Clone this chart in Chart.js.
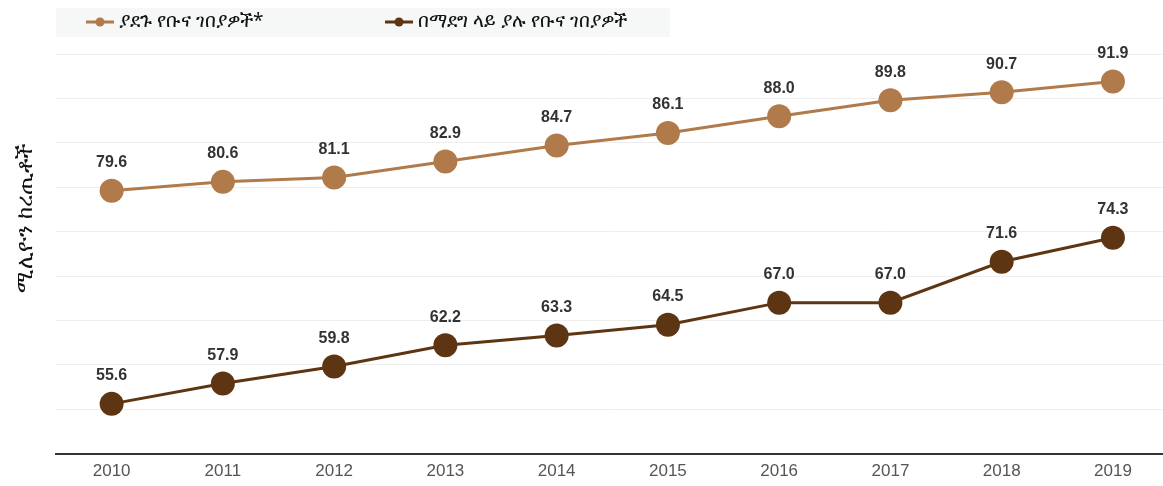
<!DOCTYPE html>
<html>
<head>
<meta charset="utf-8">
<script src="https://cdn.jsdelivr.net/npm/chart.js@4/dist/chart.umd.min.js"></script>
<style>
  html, body { margin: 0; padding: 0; background: #fff; overflow: hidden; }
  canvas { display: block; }
</style>
</head>
<body>
<canvas id="chart" width="1163" height="486"></canvas>
<script>
const years = [2010, 2011, 2012, 2013, 2014, 2015, 2016, 2017, 2018, 2019];
const developed = [79.6, 80.6, 81.1, 82.9, 84.7, 86.1, 88.0, 89.8, 90.7, 91.9];
const developing = [55.6, 57.9, 59.8, 62.2, 63.3, 64.5, 67.0, 67.0, 71.6, 74.3];
const seriesNames = ["ያደጉ የቡና ገበያዎች*", "በማደግ ላይ ያሉ የቡና ገበያዎች"];
const yTitle = "ሚሊዮን ከረጢቶች";

const light = "#b07a4a";
const dark = "#5e3512";
const textFont = "'Noto Sans', 'DejaVu Sans', sans-serif";

// legend, value labels and the axis title are painted here
const decor = {
  id: "decor",
  afterDatasetsDraw(chart) {
    const ctx = chart.ctx;
    ctx.save();
    ctx.font = "bold 16px 'Liberation Sans', Arial, sans-serif";
    ctx.fillStyle = "#333";
    ctx.textAlign = "center";
    ctx.textBaseline = "middle";
    chart.data.datasets.forEach((ds, i) => {
      chart.getDatasetMeta(i).data.forEach((pt, j) => {
        ctx.fillText(ds.data[j].y.toFixed(1), pt.x, pt.y - 28);
      });
    });
    ctx.restore();
  },
  afterDraw(chart) {
    const ctx = chart.ctx;
    ctx.save();
    // legend
    ctx.fillStyle = "#f6f8f8";
    ctx.fillRect(56, 8, 614, 29);
    const items = [{x: 86, ds: 0}, {x: 385, ds: 1}];
    items.forEach(it => {
      const c = chart.data.datasets[it.ds].borderColor;
      ctx.strokeStyle = c;
      ctx.lineWidth = 3;
      ctx.beginPath();
      ctx.moveTo(it.x, 22);
      ctx.lineTo(it.x + 28, 22);
      ctx.stroke();
      ctx.fillStyle = c;
      ctx.beginPath();
      ctx.arc(it.x + 14, 22, 4.5, 0, Math.PI * 2);
      ctx.fill();
      ctx.fillStyle = "#111";
      ctx.font = "19px " + textFont;
      ctx.textAlign = "left";
      ctx.textBaseline = "middle";
      ctx.fillText(chart.data.datasets[it.ds].label, it.x + 33, 22);
    });
    // y axis title
    ctx.translate(26, 218);
    ctx.rotate(-Math.PI / 2);
    ctx.fillStyle = "#111";
    ctx.font = "22px " + textFont;
    ctx.textAlign = "center";
    ctx.textBaseline = "middle";
    ctx.fillText(yTitle, 0, 0);
    ctx.restore();
  }
};

function series(label, values, color) {
  return {
    label: label,
    data: values.map((v, i) => ({x: years[i], y: v})),
    borderColor: color,
    backgroundColor: color,
    borderWidth: 3,
    pointRadius: 12,
    pointHoverRadius: 12,
    pointBorderWidth: 0,
    tension: 0,
    clip: false
  };
}

new Chart(document.getElementById("chart"), {
  type: "line",
  data: {
    datasets: [
      series(seriesNames[0], developed, light),
      series(seriesNames[1], developing, dark)
    ]
  },
  options: {
    responsive: false,
    animation: false,
    layout: { autoPadding: false, padding: { top: 54, left: 56, right: 0, bottom: -4 } },
    plugins: {
      legend: { display: false },
      tooltip: { enabled: false }
    },
    scales: {
      x: {
        type: "linear",
        min: 2009.5,
        max: 2019.45,
        afterBuildTicks: axis => { axis.ticks = years.map(v => ({value: v})); },
        afterFit: axis => { axis.paddingLeft = 0; axis.paddingRight = 0; },
        grid: { display: false, drawTicks: false },
        border: { display: true, color: "#333", width: 2 },
        ticks: {
          padding: 8,
          color: "#555",
          font: { size: 17, family: "'Liberation Sans', Arial, sans-serif" },
          callback: v => String(v)
        }
      },
      y: {
        min: 50,
        max: 95,
        ticks: { display: false, stepSize: 5 },
        grid: { color: "#eeeeee", drawTicks: false },
        border: { display: false }
      }
    }
  },
  plugins: [decor]
});
</script>
</body>
</html>
